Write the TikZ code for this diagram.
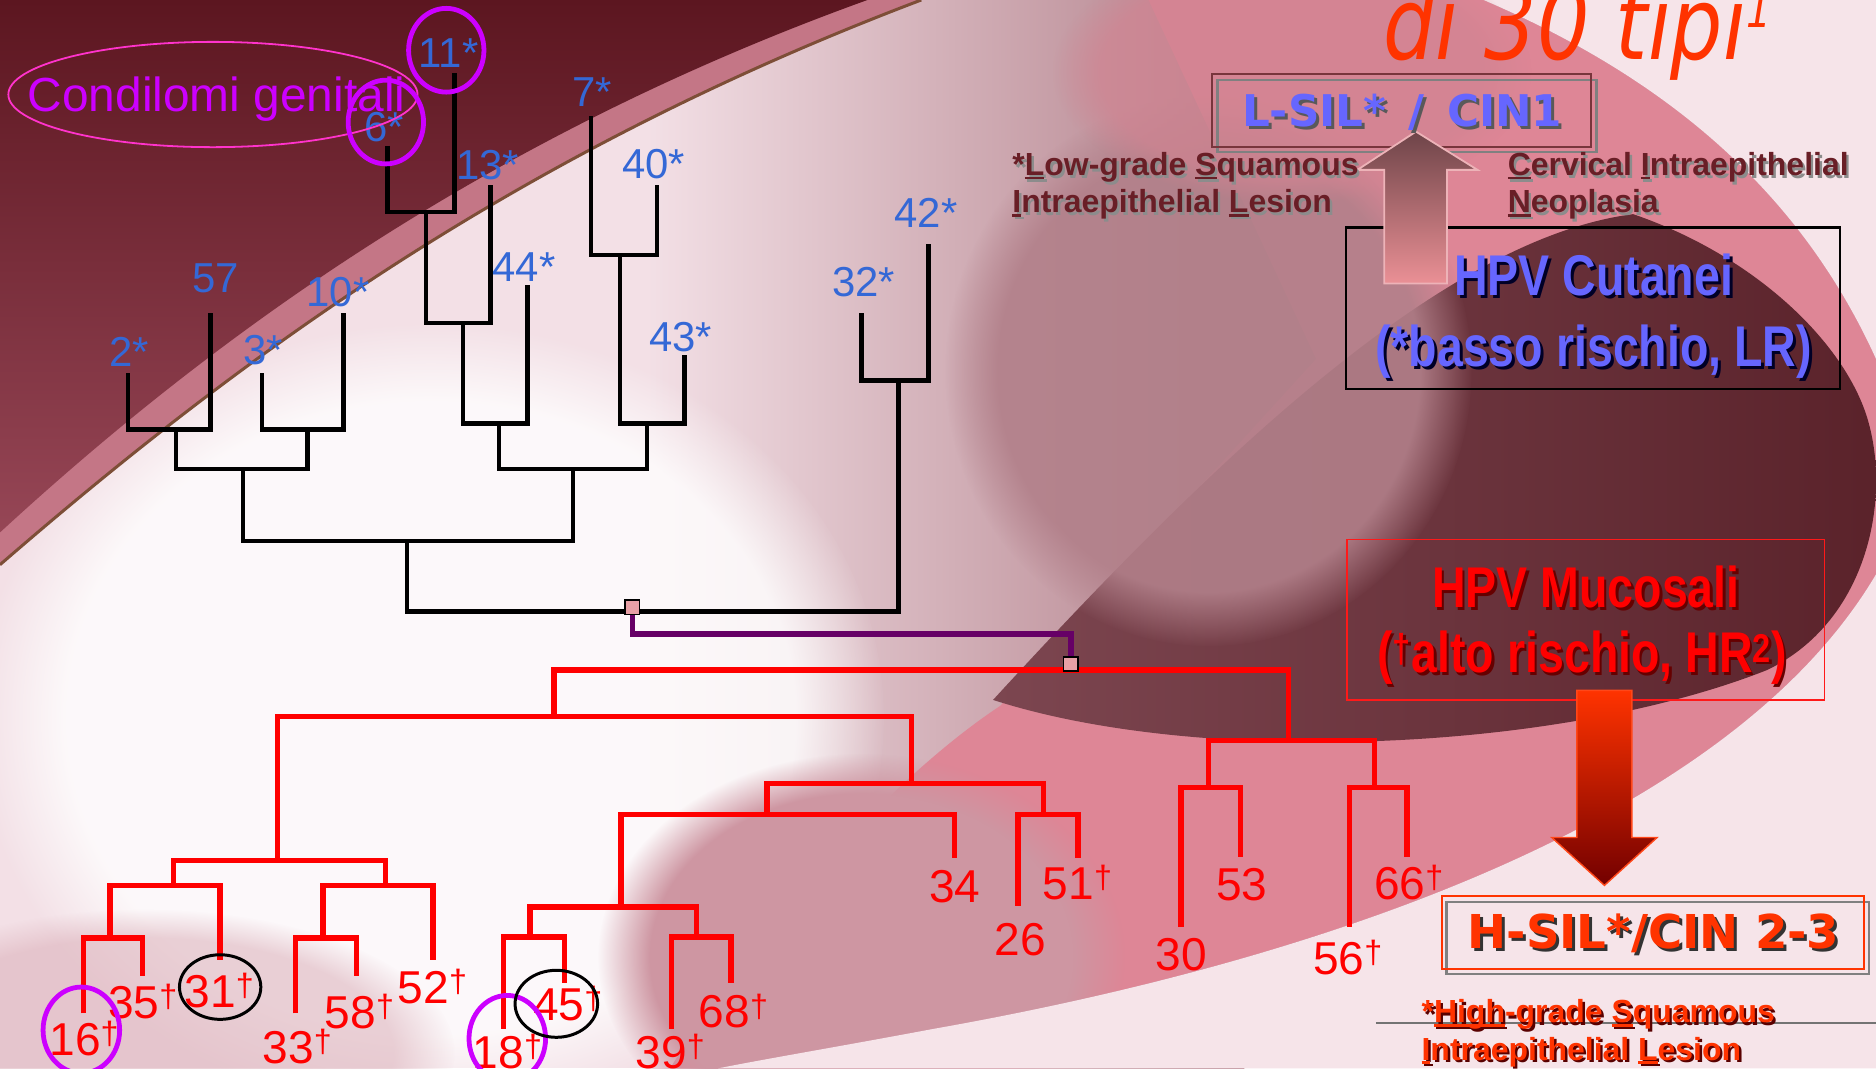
\documentclass[tikz,border=0pt]{standalone}
\usepackage{fontspec}
\setmainfont{Liberation Sans}
\newfontfamily\narrowfont[FakeStretch=0.81]{Liberation Sans}
\newfontfamily\dejavu{DejaVu Sans}
\newfontfamily\titlefont[FakeStretch=0.82]{DejaVu Sans}
\usetikzlibrary{shapes.geometric,fadings}
\newcommand\fsz[1]{\fontsize{#1}{#1}\selectfont}
\newcommand\ulx[1]{\setbox0=\hbox{#1}\rlap{\rule[-3pt]{\wd0}{2pt}}\box0}
\newcommand\shd[3]{\rlap{\hspace*{#2}\raisebox{-#2}[0pt][0pt]{\color{#1}#3}}#3}
\definecolor{bgbase}{RGB}{243,224,230}
\definecolor{mauve}{RGB}{178,128,138}
\definecolor{pinkA}{RGB}{222,134,150}
\definecolor{pinkB}{RGB}{206,150,162}
\definecolor{darkM}{RGB}{90,34,42}
\definecolor{darkL}{RGB}{124,70,80}
\definecolor{lightC}{RGB}{246,228,233}
\definecolor{tlDark}{RGB}{92,22,32}
\definecolor{tlMid}{RGB}{150,70,86}
\definecolor{tlBand}{RGB}{196,118,134}
\definecolor{edgeBrown}{RGB}{125,78,55}
\definecolor{blueL}{RGB}{52,104,214}
\definecolor{redT}{RGB}{255,0,0}
\definecolor{purpC}{RGB}{204,0,255}
\definecolor{magE}{RGB}{255,51,204}
\definecolor{purpL}{RGB}{102,0,102}
\definecolor{sqFill}{RGB}{232,160,166}
\definecolor{bluebox}{RGB}{102,102,255}
\definecolor{maroonT}{RGB}{105,30,38}
\definecolor{orangeT}{RGB}{255,51,0}
\begin{document}
\begin{tikzpicture}[x=1pt,y=-1pt,
  blk/.style={line width=3.6pt,black},
  redl/.style={line width=4.5pt,redT},
  purl/.style={line width=4.5pt,purpL},
  blab/.style={text=blueL,font=\fsz{35},inner sep=0},
  rlab/.style={text=redT,font=\fsz{38.5},inner sep=0},
  pcirc/.style={ellipse,draw=purpC,line width=4pt,inner sep=0},
  kcirc/.style={ellipse,draw=black,line width=2.5pt,inner sep=0},
  sq/.style={rectangle,draw=black,line width=1.2pt,fill=sqFill,minimum size=12pt,inner sep=0},
  hpvfont/.style={font=\narrowfont\bfseries\fsz{48},inner sep=0},
  smallnote/.style={font=\bfseries\fsz{26.7},inner sep=0,anchor=base west}]
\useasboundingbox (0,0) rectangle (1568,893);
% ---------- background ----------
\fill[bgbase] (0,0) rectangle (1568,893);
\shade[left color=bgbase,right color=mauve] (540,0) rectangle (1040,893);
\fill[mauve] (1039,0) rectangle (1568,893);
\fill[white,path fading=circle with fuzzy edge 20 percent,opacity=0.8] (360,600) ellipse (380 and 330);
\fill[pinkB!60!bgbase,path fading=circle with fuzzy edge 20 percent,opacity=0.6] (120,880) ellipse (260 and 120);
% pink ring
\fill[pinkA] (960,0) -- (1240,0) .. controls (1380,60) and (1500,150) .. (1568,300) -- (1568,480) .. controls (1450,680) and (1120,800) .. (780,860) .. controls (700,875) and (640,885) .. (600,893) -- (560,893) .. controls (650,750) and (760,640) .. (836,590) -- (1100,300) -- cycle;
\fill[pinkB,path fading=circle with fuzzy edge 20 percent] (720,800) ellipse (220 and 170);
% light corners
\fill[lightC] (1240,0) .. controls (1380,60) and (1500,150) .. (1568,300) -- (1568,0) -- cycle;
\fill[lightC] (1568,480) .. controls (1450,680) and (1120,800) .. (780,860) .. controls (700,875) and (640,885) .. (600,893) -- (1568,893) -- cycle;
% dark crescent
\shade[left color=darkL,right color=darkM] (830,585) .. controls (1000,640) and (1300,630) .. (1477,560) .. controls (1560,520) and (1580,420) .. (1562,354) .. controls (1545,290) and (1470,215) .. (1365,179) .. controls (1200,200) and (1000,400) .. (830,585) -- cycle;
\fill[mauve,path fading=circle with fuzzy edge 20 percent,opacity=0.9] (1010,310) ellipse (220 and 230);
\fill[pinkA!70!mauve,path fading=circle with fuzzy edge 20 percent,opacity=0.7] (1080,60) ellipse (200 and 110);
% top-left dark region
\fill[tlBand] (0,0) -- (770,0) .. controls (440,125) and (210,290) .. (0,472) -- cycle;
\draw[edgeBrown,line width=2.5pt] (770,0) .. controls (440,125) and (210,290) .. (0,472);
\shade[top color=tlDark,bottom color=tlMid] (0,0) -- (725,0) .. controls (420,110) and (190,270) .. (0,445) -- cycle;
% grey line bottom right
\draw[line width=2pt,black!55] (1150,855) -- (1568,855);
% ---------- black tree ----------
\coordinate (L2) at (107,312);
\coordinate (L57) at (176,262);
\coordinate (L3) at (219,312);
\coordinate (L10) at (287,262);
\coordinate (L6) at (324,122);
\coordinate (L11) at (380,61);
\coordinate (L13) at (410,155);
\coordinate (L44) at (441,238);
\coordinate (L7) at (494,97);
\coordinate (L40) at (549,155);
\coordinate (L43) at (572,297);
\coordinate (L32) at (720,262);
\coordinate (L42) at (776,204);
\coordinate (b1) at (147,359);
\coordinate (b2) at (257,359);
\coordinate (b3) at (203,392);
\coordinate (b4) at (356,177);
\coordinate (b5) at (387,270);
\coordinate (b6) at (417,354);
\coordinate (b7) at (518,213);
\coordinate (b8) at (541,354);
\coordinate (b9) at (479,392);
\coordinate (b10) at (340,452);
\coordinate (b11) at (751,318);
\coordinate (b12) at (528,511);
\draw[blk] (L2) |- (b1) -| (L57);
\draw[blk] (L3) |- (b2) -| (L10);
\draw[blk] (b1) |- (b3) -| (b2);
\draw[blk] (L6) |- (b4) -| (L11);
\draw[blk] (b4) |- (b5) -| (L13);
\draw[blk] (b5) |- (b6) -| (L44);
\draw[blk] (L7) |- (b7) -| (L40);
\draw[blk] (b7) |- (b8) -| (L43);
\draw[blk] (b6) |- (b9) -| (b8);
\draw[blk] (b3) |- (b10) -| (b9);
\draw[blk] (L32) |- (b11) -| (L42);
\draw[blk] (b10) |- (b12) -| (b11);
% ---------- red tree ----------
\coordinate (R16) at (70,847);
\coordinate (R35) at (119,816);
\coordinate (R31) at (184,802);
\coordinate (R33) at (247,847);
\coordinate (R58) at (298,816);
\coordinate (R52) at (362,802);
\coordinate (R18) at (421,860);
\coordinate (R45) at (472,822);
\coordinate (R39) at (561,860);
\coordinate (R68) at (611,822);
\coordinate (R34) at (798,717);
\coordinate (R26) at (851,757);
\coordinate (R51) at (901,717);
\coordinate (R30) at (987,775);
\coordinate (R53) at (1037,716);
\coordinate (R56) at (1128,775);
\coordinate (R66) at (1176,716);
\coordinate (r1) at (92,784);
\coordinate (r2) at (145,740);
\coordinate (r3) at (270,784);
\coordinate (r4) at (322,740);
\coordinate (r5) at (232,719);
\coordinate (r6) at (443,783);
\coordinate (r7) at (582,783);
\coordinate (r8) at (519,758);
\coordinate (r9) at (641,681);
\coordinate (r10) at (872,681);
\coordinate (r11) at (762,655);
\coordinate (r12) at (463,599);
\coordinate (r13) at (1010,658);
\coordinate (r14) at (1149,658);
\coordinate (r15) at (1077,619);
\coordinate (r16) at (895,560);
\draw[redl] (R16) |- (r1) -| (R35);
\draw[redl] (r1) |- (r2) -| (R31);
\draw[redl] (R33) |- (r3) -| (R58);
\draw[redl] (r3) |- (r4) -| (R52);
\draw[redl] (r2) |- (r5) -| (r4);
\draw[redl] (R18) |- (r6) -| (R45);
\draw[redl] (R39) |- (r7) -| (R68);
\draw[redl] (r6) |- (r8) -| (r7);
\draw[redl] (r8) |- (r9) -| (R34);
\draw[redl] (R26) |- (r10) -| (R51);
\draw[redl] (r9) |- (r11) -| (r10);
\draw[redl] (r5) |- (r12) -| (r11);
\draw[redl] (R30) |- (r13) -| (R53);
\draw[redl] (R56) |- (r14) -| (R66);
\draw[redl] (r13) |- (r15) -| (r14);
\draw[redl] (r12) |- (r16) -| (r15);
% ---------- link ----------
\node[sq] (sq1) at (528.5,507.5) {};
\node[sq] (sq2) at (895,555) {};
\coordinate (pm) at (895,530);
\draw[purl] (sq1) |- (pm) -- (sq2);
% ---------- blue labels ----------
\node[blab] (t2) at (108,294) {2*};
\node[blab] (t57) at (180,233) {57};
\node[blab] (t3) at (220,293) {3*};
\node[blab] (t10) at (282.5,244.5) {10*};
\node[blab] (t6) at (321,106) {6*};
\node[blab] (t11) at (375,44) {11*};
\node[blab] (t13) at (407.5,138) {13*};
\node[blab] (t44) at (438,223) {44*};
\node[blab] (t7) at (495,77) {7*};
\node[blab] (t40) at (546.5,137) {40*};
\node[blab] (t43) at (569,282) {43*};
\node[blab] (t32) at (722,235.5) {32*};
\node[blab] (t42) at (774,178) {42*};
% ---------- red labels ----------
\node[rlab] (t16) at (62.7,868) {16\rlap{\textsuperscript{†}}};
\node[rlab] (t35) at (111.7,837) {35\rlap{\textsuperscript{†}}};
\node[rlab] (t31) at (175.7,828) {31\rlap{\textsuperscript{†}}};
\node[rlab] (t33) at (241,875) {33\rlap{\textsuperscript{†}}};
\node[rlab] (t58) at (293,845.6) {58\rlap{\textsuperscript{†}}};
\node[rlab] (t52) at (354,824.7) {52\rlap{\textsuperscript{†}}};
\node[rlab] (t18) at (416.6,879) {18\rlap{\textsuperscript{†}}};
\node[rlab] (t45) at (467,839) {45\rlap{\textsuperscript{†}}};
\node[rlab] (t39) at (552.7,879) {39\rlap{\textsuperscript{†}}};
\node[rlab] (t68) at (605.5,845) {68\rlap{\textsuperscript{†}}};
\node[rlab] (t34) at (798,741) {34};
\node[rlab] (t26) at (853,785) {26};
\node[rlab] (t51) at (893,737.6) {51\rlap{\textsuperscript{†}}};
\node[rlab] (t53) at (1038,739) {53};
\node[rlab] (t30) at (987.5,797.5) {30};
\node[rlab] (t56) at (1119,800) {56\rlap{\textsuperscript{†}}};
\node[rlab] (t66) at (1170,737.5) {66\rlap{\textsuperscript{†}}};
% ---------- circles ----------
\node[text=purpC,font=\fsz{40},inner sep=0,anchor=base] (condtxt) at (181,93) {Condilomi genitali};
\node[ellipse,draw=magE,line width=1.5pt,minimum width=342pt,minimum height=88pt,inner sep=0] (condell) at (178,79) {};
\node[pcirc,minimum width=63pt,minimum height=70pt] (c11) at (373,42) {};
\node[pcirc,minimum width=63pt,minimum height=70pt] (c6) at (322.5,102) {};
\node[pcirc,minimum width=64pt,minimum height=72pt] (c16) at (68,861) {};
\node[pcirc,minimum width=64pt,minimum height=72pt] (c18) at (424,868) {};
\node[kcirc,minimum width=68pt,minimum height=54pt] (c31) at (184,825) {};
\node[kcirc,minimum width=69pt,minimum height=56pt] (c45) at (465,839) {};
% ---------- title ----------
\node[text=orangeT,font=\titlefont\itshape\fsz{84},inner sep=0,anchor=base west] (title) at (1156,50) {di 30 tipi\raisebox{27pt}{\fsz{40}1}};
% ---------- L-SIL box ----------
\node[draw=black!50,line width=2pt,minimum width=317pt,minimum height=60pt,inner sep=0] (lsilg) at (1176,97) {};
\node[draw=maroonT!90,line width=2pt,minimum width=317pt,minimum height=61pt,inner sep=0] (lsil) at (1171.5,92.3) {};
% HPV Cutanei box
\node[draw=black,line width=2pt,minimum width=413pt,minimum height=135pt,inner sep=0] (cutbox) at (1331.5,257.5) {};
% up arrow
\shadedraw[top color=maroonT!70!black!80,bottom color=sqFill!90!red,draw=sqFill!80!white,line width=1.5pt] (1183.5,110) -- (1235,142) -- (1209.5,142) -- (1209.5,237) -- (1157,237) -- (1157,142) -- (1134.5,142) -- cycle;
\node[text=bluebox,font=\dejavu\bfseries\fsz{36.5},inner sep=0] (lsiltxt) at (1172,94) {\shd{black!65}{2.5pt}{L-SIL*\hspace{6pt} /\hspace{6pt} CIN1}};
\node[smallnote,text=maroonT] (low1) at (846,147) {\shd{black!45}{2pt}{*\ulx{L}ow-grade \ulx{S}quamous}};
\node[smallnote,text=maroonT] (low2) at (846,178) {\shd{black!45}{2pt}{\ulx{I}ntraepithelial \ulx{L}esion}};
\node[smallnote,text=maroonT] (cerv1) at (1260,147) {\shd{black!45}{2pt}{\ulx{C}ervical \ulx{I}ntraepithelial}};
\node[smallnote,text=maroonT] (cerv2) at (1260,178) {\shd{black!45}{2pt}{\ulx{N}eoplasia}};
\node[hpvfont,text=bluebox] (cut1) at (1332,230) {\shd{black!85!blue}{2.5pt}{HPV Cutanei}};
\node[hpvfont,text=bluebox] (cut2) at (1332,294) {\shd{black!85!blue}{2.5pt}{(*basso rischio, LR)}};
% HPV Mucosali box
\node[draw=redT!90,line width=1.5pt,minimum width=399pt,minimum height=134pt,inner sep=0] (mucbox) at (1325.5,518) {};
\shadedraw[top color=orangeT,bottom color=red!45!black,draw=orangeT!90!white,line width=1.2pt] (1318,577) -- (1364,577) -- (1364,700) -- (1385,700) -- (1341,740) -- (1297,700) -- (1318,700) -- cycle;
\node[hpvfont,text=redT] (muc1) at (1325.5,491) {\shd{red!40!black}{2pt}{HPV Mucosali}};
\node[hpvfont,text=redT] (muc2) at (1322.5,550) {\shd{red!40!black}{2pt}{(\textsuperscript{†}alto rischio, HR\textsuperscript{2})}};
% H-SIL box
\node[draw=black!50,line width=2pt,minimum width=353pt,minimum height=60pt,inner sep=0] (hsilg) at (1385.5,784) {};
\node[draw=orangeT,line width=2pt,minimum width=353pt,minimum height=61pt,inner sep=0] (hsil) at (1381.5,779.5) {};
\node[text=orangeT,font=\dejavu\bfseries\fsz{39},inner sep=0] (hsiltxt) at (1382,780) {\shd{black!80}{2.5pt}{H-SIL*/CIN 2-3}};
\node[smallnote,text=orangeT] (high1) at (1188,855) {\shd{red!35!black}{2pt}{*\ulx{High}-grade \ulx{S}quamous}};
\node[smallnote,text=orangeT] (high2) at (1188,886) {\shd{red!35!black}{2pt}{\ulx{I}ntraepithelial \ulx{L}esion}};
\end{tikzpicture}
\end{document}
